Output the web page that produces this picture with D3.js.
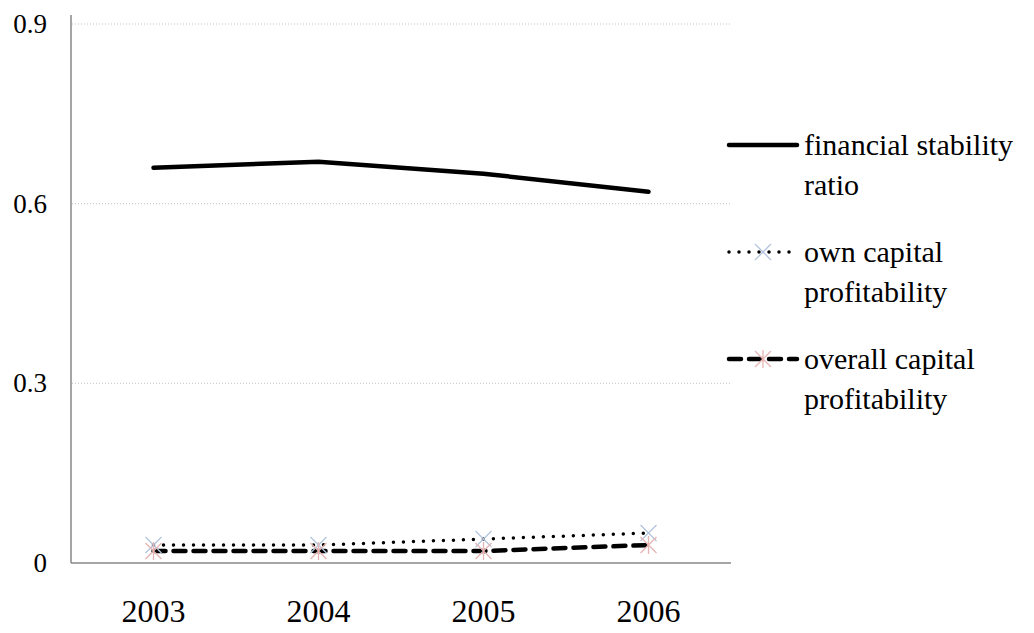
<!DOCTYPE html>
<html>
<head>
<meta charset="utf-8">
<script src="https://cdn.jsdelivr.net/npm/d3@7"></script>
<style>
  html, body { margin: 0; padding: 0; background: #fff; }
  svg { display: block; }
  svg text { font-family: "Liberation Serif", "DejaVu Serif", "Tinos", "Times New Roman", Times, serif; }
</style>
</head>
<body>
<svg id="chart" width="1034" height="633"></svg>
<script>
// Years on the category axis
const years = ["2003", "2004", "2005", "2006"];
// Series values
const financialStability = [0.66, 0.67, 0.65, 0.62];
const ownCapitalProfitability = [0.03, 0.03, 0.04, 0.05];
const overallCapitalProfitability = [0.02, 0.02, 0.02, 0.03];
// Value axis ticks
const yTicks = [0, 0.3, 0.6, 0.9];
// Legend labels (two lines each)
const legendLabels = [
  ["financial stability", "ratio"],
  ["own capital", "profitability"],
  ["overall capital", "profitability"]
];

const svg = d3.select("#chart");
const plot = { left: 71, right: 731, top: 15, bottom: 563 };

const x = d3.scaleBand().domain(years).range([plot.left, plot.right]);
const y = d3.scaleLinear().domain([0, 0.9]).range([plot.bottom, 24]);
const cx = d => x(d) + x.bandwidth() / 2;

// Horizontal gridlines
svg.append("g")
  .selectAll("line")
  .data(yTicks.filter(t => t > 0))
  .join("line")
  .attr("x1", plot.left + 1).attr("x2", plot.right - 1)
  .attr("y1", d => y(d)).attr("y2", d => y(d))
  .attr("stroke", "#c4c4c4").attr("stroke-width", 1)
  .attr("stroke-dasharray", "1,2");

// Axis lines
svg.append("line")
  .attr("x1", plot.left).attr("x2", plot.left)
  .attr("y1", plot.top).attr("y2", plot.bottom)
  .attr("stroke", "#878787").attr("stroke-width", 1.5);
svg.append("line")
  .attr("x1", plot.left).attr("x2", plot.right)
  .attr("y1", plot.bottom).attr("y2", plot.bottom)
  .attr("stroke", "#878787").attr("stroke-width", 1.5);

// Y tick labels
const yFmt = d => d === 0 ? "0" : d3.format(".1f")(d);
svg.append("g")
  .selectAll("text")
  .data(yTicks)
  .join("text")
  .attr("x", 47).attr("y", d => y(d) + 9)
  .attr("text-anchor", "end")
  .attr("font-size", 27)
  .text(yFmt);

// X tick labels
svg.append("g")
  .selectAll("text")
  .data(years)
  .join("text")
  .attr("x", d => cx(d)).attr("y", 622)
  .attr("text-anchor", "middle")
  .attr("font-size", 32)
  .text(d => d);

const series = [
  { values: financialStability, width: 4.5, dash: null, cap: "round", marker: null },
  { values: ownCapitalProfitability, width: 3.5, dash: "0,10", cap: "round", marker: "x" },
  { values: overallCapitalProfitability, width: 4.5, dash: "12,8", cap: "round", marker: "star" }
];

const line = d3.line().x((d, i) => cx(years[i])).y(d => y(d));

function drawMarker(g, type, px, py) {
  const r = 8;
  if (type === "x") {
    g.append("path")
      .attr("d", `M${px - r},${py - r}L${px + r},${py + r}M${px - r},${py + r}L${px + r},${py - r}`)
      .attr("stroke", "#b4c4de").attr("stroke-width", 1.3).attr("fill", "none");
  } else if (type === "star") {
    g.append("path")
      .attr("d", `M${px - r},${py - r}L${px + r},${py + r}M${px - r},${py + r}L${px + r},${py - r}M${px},${py - r - 1}L${px},${py + r + 1}`)
      .attr("stroke", "#e7b4b4").attr("stroke-width", 1.3).attr("fill", "none");
  }
}

series.forEach(s => {
  svg.append("path")
    .datum(s.values)
    .attr("d", line)
    .attr("fill", "none")
    .attr("stroke", "#000")
    .attr("stroke-width", s.width)
    .attr("stroke-linecap", s.cap)
    .attr("stroke-dasharray", s.dash);
});
series.forEach(s => {
  if (!s.marker) return;
  const g = svg.append("g");
  s.values.forEach((v, i) => drawMarker(g, s.marker, cx(years[i]), y(v)));
});

// Legend
const legendTop = 145, entryGap = 107, lineGap = 40;
series.forEach((s, i) => {
  const ly = legendTop + i * entryGap;
  svg.append("line")
    .attr("x1", 729).attr("x2", 797)
    .attr("y1", ly).attr("y2", ly)
    .attr("stroke", "#000").attr("stroke-width", s.width)
    .attr("stroke-linecap", s.cap)
    .attr("stroke-dasharray", s.dash);
  if (s.marker) drawMarker(svg, s.marker, 763, ly);
  svg.append("text")
    .attr("x", 804).attr("y", ly + 10)
    .attr("font-size", 30)
    .selectAll("tspan")
    .data(legendLabels[i])
    .join("tspan")
    .attr("x", 804)
    .attr("dy", (d, j) => j === 0 ? 0 : lineGap)
    .text(d => d);
});
</script>
</body>
</html>
